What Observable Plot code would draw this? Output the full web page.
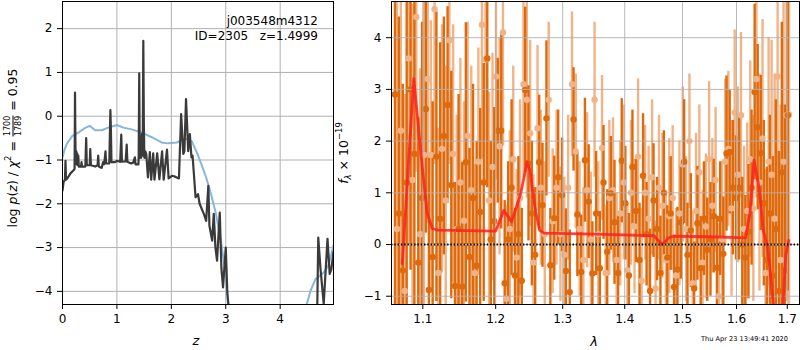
<!DOCTYPE html>
<html><head><meta charset="utf-8">
<script src="https://cdn.jsdelivr.net/npm/d3@7"></script>
<script src="https://cdn.jsdelivr.net/npm/@observablehq/plot@0.6"></script>
<style>
body{margin:0;background:#fff;}
#wrap{position:relative;width:800px;height:350px;font-family:"DejaVu Sans",sans-serif;overflow:hidden;background:#fff}
#left,#right{position:absolute;top:0}
#left{left:0}
#right{left:340px}
.lbl{position:absolute;white-space:nowrap;color:#000;line-height:1}
.rot{transform:translate(-50%,-50%) rotate(-90deg)}
.frac{display:inline-flex;flex-direction:column;vertical-align:middle;font-size:8px;text-align:center;line-height:1;margin:0 1px}
.frac span:first-child{border-bottom:1px solid #000;padding-bottom:1px}
.frac span:last-child{padding-top:1px}
</style></head><body>
<div id="wrap">
<div id="left"></div><div id="right"></div>
<div class="lbl rot" style="left:13px;top:148px;font-size:12.5px">log <i>p</i>(<i>z</i>) / <i>χ</i><sup style="font-size:8px">2</sup> = <span class="frac"><span>1700</span><span>1789</span></span> = 0.95</div>
<div class="lbl rot" style="left:344px;top:153px;font-size:12.5px"><i>f</i><sub style="font-size:8.5px"><i>λ</i></sub> × 10<sup style="font-size:8.5px">−19</sup></div>
<div class="lbl" style="left:196px;top:340px;transform:translate(-50%,-50%);font-size:13px;font-style:italic">z</div>
<div class="lbl" style="left:594px;top:341px;transform:translate(-50%,-50%);font-size:13px;font-style:italic">λ</div>
<div class="lbl" style="right:482px;top:14px;font-size:12px;text-align:right;white-space:pre;line-height:14.5px">j003548m4312
ID=2305   z=1.4999</div>
<div class="lbl" style="right:12px;top:336px;font-size:6.6px">Thu Apr 23 13:49:41 2020</div>
</div>
<script>
// ---- Left panel: log p(z) ----
const pzZ = [0.000,0.020,0.045,0.055,0.065,0.100,0.150,0.200,0.222,0.230,0.238,0.246,0.254,0.262,0.270,0.278,0.290,0.300,0.340,0.350,0.360,0.420,0.435,0.447,0.500,0.510,0.522,0.600,0.645,0.656,0.668,0.720,0.745,0.765,0.790,0.802,0.860,0.880,0.890,0.900,0.960,1.000,1.060,1.080,1.092,1.160,1.180,1.192,1.260,1.300,1.330,1.342,1.395,1.400,1.410,1.420,1.432,1.445,1.460,1.474,1.485,1.495,1.505,1.522,1.540,1.570,1.605,1.630,1.667,1.690,1.740,1.780,1.830,1.860,1.920,1.950,2.010,2.070,2.140,2.180,2.220,2.240,2.270,2.310,2.340,2.370,2.390,2.410,2.445,2.490,2.520,2.600,2.640,2.680,2.700,2.750,2.780,2.810,2.840,2.890,2.920,2.950,3.000,3.030,3.060,3.150,4.600,4.680,4.700,4.740,4.800,4.870,4.910,4.940,4.980];
const pzLog = [-1.70,-1.50,-1.45,-1.02,-1.45,-1.40,-1.30,-1.24,-1.20,0.54,-0.70,-1.05,-0.80,-1.10,-0.85,-1.12,-0.90,-1.15,-1.15,-1.05,-1.15,-1.15,-0.50,-1.12,-1.12,-0.75,-1.12,-1.15,-1.12,-0.90,-1.15,-1.18,-1.05,-1.10,-0.80,-1.08,-1.08,0.14,-0.33,-1.05,-1.05,-1.02,-1.04,-0.42,-1.04,-1.03,-0.65,-1.04,-1.08,-1.06,-0.94,-1.10,-1.10,-0.90,0.98,-0.95,-0.60,-0.95,-0.40,-0.90,1.72,-0.20,-0.95,-0.80,-0.87,-1.40,-0.82,-1.45,-0.85,-1.45,-0.85,-1.44,-0.80,-1.45,-0.76,-1.42,-1.36,-1.38,-1.42,0.05,-0.86,-0.80,0.39,-0.80,-0.41,-0.94,-0.90,-1.24,-1.85,-1.78,-2.00,-2.24,-2.39,-1.59,-2.50,-2.84,-2.23,-3.00,-3.30,-2.20,-3.47,-3.91,-3.00,-4.06,-4.44,-5.50,-5.50,-4.50,-2.77,-3.47,-4.28,-2.80,-3.60,-3.50,-3.10];
const chiZ = [0.00,0.04,0.08,0.18,0.30,0.41,0.50,0.60,0.72,0.84,1.00,1.12,1.27,1.45,1.64,1.82,1.94,2.10,2.25,2.30,2.38,2.47,2.55,2.64,2.73,2.82,2.91,3.00,3.05,3.20,3.50,4.00,4.30,4.47,4.56,4.65,4.80,4.89,4.98];
const chiLog = [-0.94,-0.75,-0.63,-0.45,-0.37,-0.27,-0.22,-0.32,-0.32,-0.26,-0.20,-0.26,-0.30,-0.37,-0.48,-0.60,-0.62,-0.60,-0.52,-0.52,-0.58,-0.83,-1.09,-1.40,-1.78,-2.23,-2.84,-3.60,-4.37,-5.50,-6.50,-6.50,-5.30,-4.37,-3.98,-3.72,-3.57,-3.40,-2.95];
const leftXTicks = [0,1,2,3,4];
const leftYTicks = [-4,-3,-2,-1,0,1,2];

// ---- Right panel: spectrum ----
const darkLam = [1.064,1.069,1.074,1.079,1.084,1.089,1.094,1.099,1.104,1.108,1.113,1.118,1.123,1.128,1.133,1.138,1.143,1.148,1.153,1.158,1.163,1.168,1.173,1.178,1.183,1.188,1.193,1.198,1.203,1.208,1.213,1.218,1.223,1.228,1.233,1.238,1.243,1.248,1.253,1.258,1.264,1.269,1.275,1.281,1.287,1.293,1.299,1.305,1.311,1.317,1.323,1.329,1.335,1.341,1.347,1.353,1.359,1.365,1.371,1.377,1.383,1.389,1.395,1.401,1.407,1.413,1.419,1.425,1.431,1.437,1.443,1.449,1.455,1.461,1.467,1.473,1.479,1.485,1.491,1.497,1.503,1.509,1.515,1.521,1.527,1.533,1.539,1.545,1.551,1.557,1.563,1.569,1.575,1.581,1.587,1.593,1.599,1.605,1.611,1.617,1.623,1.629,1.635,1.641,1.647,1.653,1.659,1.665,1.671,1.677,1.683,1.689,1.695,1.701];
const darkFlux = [2.90,0.60,-0.50,1.20,3.00,1.75,-0.35,0.90,2.62,-0.88,-0.24,1.70,0.50,2.10,2.70,1.15,-0.80,0.30,-0.81,1.59,-0.24,0.90,-0.41,0.63,1.20,3.60,0.10,0.45,2.20,2.20,-0.75,0.10,1.10,-0.60,0.20,-0.70,2.99,1.57,0.60,-0.20,1.59,0.76,2.44,-0.40,0.51,1.30,0.96,-0.51,-0.92,2.42,0.58,-0.53,1.63,0.83,-0.56,0.60,-0.46,1.20,-0.14,0.99,0.43,-0.55,1.62,0.80,-0.60,1.50,0.65,-0.30,1.33,0.20,-0.90,0.85,0.30,-0.55,1.00,-0.25,0.60,-0.82,-0.48,0.43,1.60,-0.20,0.27,-0.85,0.41,-0.46,0.50,-0.10,0.10,0.55,-0.45,0.50,-0.18,1.76,1.79,1.10,0.90,1.10,0.00,-0.25,0.25,1.10,2.95,2.27,1.77,0.80,-0.30,0.60,-0.60,0.30,-0.90,1.40,-0.50,2.50];
const darkErr = [4.2,3.8,3.6,4.0,3.5,3.2,2.8,3.4,2.4,2.6,3.0,2.8,3.4,2.3,1.9,2.2,2.0,2.6,2.4,2.7,2.1,2.2,2.4,2.0,2.3,2.5,1.9,2.2,1.4,1.9,1.6,1.5,1.7,1.3,1.5,1.4,1.6,1.5,1.4,1.3,1.3,1.2,1.5,1.1,1.2,1.3,1.1,1.2,1.2,1.0,1.2,1.1,1.2,1.1,1.0,1.2,1.1,1.1,1.2,1.1,1.2,1.1,1.2,1.1,1.2,1.1,1.0,1.1,1.2,1.0,1.2,1.1,1.0,1.1,1.2,1.0,1.1,1.0,1.2,1.1,1.2,1.0,1.1,0.9,1.1,1.0,1.1,1.0,1.1,1.1,1.0,1.1,1.1,1.5,1.2,1.3,1.2,1.4,1.3,1.2,1.3,1.5,1.7,1.6,1.5,1.6,1.8,1.9,2.3,2.5,2.7,2.9,3.2,3.4];
const lightLam = [1.0665,1.0715,1.0765,1.0815,1.0865,1.0915,1.0965,1.1015,1.1065,1.1105,1.1155,1.1205,1.1255,1.1305,1.1355,1.1405,1.1455,1.1505,1.1555,1.1605,1.1655,1.1705,1.1755,1.1805,1.1855,1.1905,1.1955,1.2005,1.2055,1.2105,1.2155,1.2205,1.2255,1.2305,1.2355,1.2405,1.2455,1.2505,1.2555,1.2615,1.2665,1.2725,1.2785,1.2845,1.2905,1.2965,1.3025,1.3085,1.3145,1.3205,1.3265,1.3325,1.3385,1.3445,1.3505,1.3565,1.3625,1.3685,1.3745,1.3805,1.3865,1.3925,1.3985,1.4045,1.4105,1.4165,1.4225,1.4285,1.4345,1.4405,1.4465,1.4525,1.4585,1.4645,1.4705,1.4765,1.4825,1.4885,1.4945,1.5005,1.5065,1.5125,1.5185,1.5245,1.5305,1.5365,1.5425,1.5485,1.5545,1.5605,1.5665,1.5725,1.5785,1.5845,1.5905,1.5965,1.6025,1.6085,1.6145,1.6205,1.6265,1.6325,1.6385,1.6445,1.6505,1.6565,1.6625,1.6685,1.6745,1.6805,1.6865,1.6925,1.6985,1.7035];
const lightFlux = [0.30,2.20,-0.90,3.60,1.25,4.40,0.20,1.73,3.20,1.73,4.55,-0.55,1.85,0.85,3.95,1.75,0.30,1.20,0.46,2.10,1.05,-0.55,1.60,4.25,3.58,0.85,1.50,3.25,1.90,4.10,-1.05,0.30,1.65,-0.25,0.90,3.10,2.80,2.15,-0.35,2.25,1.10,0.20,2.80,0.45,1.10,0.20,-0.20,1.10,3.10,1.80,0.30,-0.30,1.05,0.10,2.80,0.20,1.87,-0.55,0.90,1.05,-0.30,0.60,1.20,-0.50,1.00,0.35,1.70,-0.70,1.00,0.50,1.30,-0.85,1.10,0.75,-0.30,0.55,0.90,-0.60,0.60,1.55,0.30,2.00,-0.75,0.65,1.40,-0.35,0.35,1.65,0.75,1.25,-1.00,0.10,1.60,1.85,0.70,2.55,1.35,2.50,0.30,0.65,1.65,0.70,3.20,1.20,2.05,-0.55,1.60,1.35,0.50,3.25,-0.30,1.60,2.50,2.51];
const lightErr = [4.5,4.2,3.8,3.6,3.4,3.0,3.2,3.0,2.8,2.6,3.0,2.8,2.4,2.6,2.4,2.5,2.2,2.4,2.3,2.2,2.4,2.1,2.2,2.6,2.4,2.1,2.2,2.0,2.1,2.2,1.8,1.9,1.8,1.7,1.9,1.8,1.9,1.8,1.7,1.6,1.5,1.4,1.5,1.4,1.5,1.3,1.5,1.4,1.4,1.5,1.3,1.4,1.5,1.3,1.5,1.4,1.4,1.3,1.5,1.4,1.3,1.4,1.5,1.3,1.4,1.3,1.5,1.4,1.3,1.4,1.5,1.3,1.4,1.4,1.3,1.5,1.4,1.3,1.4,1.5,1.4,1.3,1.4,1.5,1.3,1.4,1.4,1.5,1.3,1.4,1.4,1.5,1.6,1.5,1.7,1.6,1.7,1.6,1.6,1.7,1.9,1.8,2.3,2.1,2.3,2.0,2.4,2.6,2.8,3.0,3.0,3.3,3.6,3.8];
const modelLam = [1.0733,1.0882,1.0992,1.1058,1.1124,1.1200,1.1600,1.2000,1.2117,1.2230,1.2367,1.2459,1.2500,1.2575,1.2645,1.2715,1.3500,1.4495,1.4641,1.4757,1.4837,1.5500,1.6174,1.6259,1.6337,1.6435,1.6520,1.6610,1.6700,1.6760,1.6860,1.6970,1.7030];
const modelFlux = [-0.37,3.21,1.50,0.60,0.31,0.28,0.27,0.26,0.66,0.44,1.00,1.60,1.44,0.73,0.28,0.22,0.20,0.17,0.00,0.13,0.16,0.15,0.13,0.60,1.63,1.11,0.28,-0.08,-0.95,-1.60,-2.00,-0.20,0.08];
const rightXTicks = [1.1,1.2,1.3,1.4,1.5,1.6,1.7];
const rightYTicks = [-1,0,1,2,3,4];

const fmt = d => (d < 0 ? "\u2212" : "") + Math.abs(d);
const baseStyle = {fontSize: "12px", fontFamily: "DejaVu Sans, sans-serif", color: "black", background: "transparent", overflow: "visible"};
const gridC = "#b0b0b0";

const pz = pzZ.map((z, i) => ({z, v: pzLog[i]}));
const chi = chiZ.map((z, i) => ({z, v: chiLog[i]}));

const left = Plot.plot({
  width: 340, height: 350,
  marginLeft: 62, marginRight: 7, marginTop: 1, marginBottom: 46,
  style: baseStyle,
  x: {domain: [0, 4.98]},
  y: {domain: [-4.3, 2.62]},
  marks: [
    Plot.gridX({ticks: leftXTicks, stroke: gridC, strokeOpacity: 1, strokeWidth: 1}),
    Plot.gridY({ticks: leftYTicks, stroke: gridC, strokeOpacity: 1, strokeWidth: 1}),
    Plot.line(chi, {x: "z", y: "v", stroke: "#86b7da", strokeWidth: 2, clip: true}),
    Plot.line(pz, {x: "z", y: "v", stroke: "#3a3a3a", strokeWidth: 2.2, clip: true}),
    Plot.axisX({ticks: leftXTicks, tickSize: 5, tickPadding: 5, label: null, tickFormat: fmt}),
    Plot.axisY({ticks: leftYTicks, tickSize: 5, tickPadding: 5, label: null, tickFormat: fmt}),
    Plot.frame({stroke: "black", strokeWidth: 1})
  ]
});
document.getElementById("left").appendChild(left);

const dark = darkLam.map((l, i) => ({l, f: darkFlux[i], e: darkErr[i]}));
const light = lightLam.map((l, i) => ({l, f: lightFlux[i], e: lightErr[i]}));
const model = modelLam.map((l, i) => ({l, f: modelFlux[i]}));
const darkC = "#de6a0e";
const lightC = "#f0b487";

const right = Plot.plot({
  width: 460, height: 350,
  marginLeft: 51, marginRight: 1, marginTop: 1, marginBottom: 46,
  style: baseStyle,
  x: {type: "log", domain: [1.0596, 1.725]},
  y: {domain: [-1.16, 4.70]},
  marks: [
    Plot.ruleX(light, {x: "l", y1: d => d.f - d.e, y2: d => d.f + d.e, stroke: lightC, strokeWidth: 2.4, clip: true}),
    Plot.ruleX(dark, {x: "l", y1: d => d.f - d.e, y2: d => d.f + d.e, stroke: darkC, strokeWidth: 2.4, clip: true}),
    Plot.dot(light, {x: "l", y: "f", r: 3.2, fill: lightC, stroke: "none", clip: true}),
    Plot.dot(dark, {x: "l", y: "f", r: 3.2, fill: darkC, stroke: "none", clip: true}),
    Plot.gridX({ticks: rightXTicks, stroke: gridC, strokeOpacity: 0.9, strokeWidth: 1}),
    Plot.gridY({ticks: rightYTicks, stroke: gridC, strokeOpacity: 0.9, strokeWidth: 1}),
    Plot.line(model, {x: "l", y: "f", stroke: "#ff1f1f", strokeOpacity: 0.85, strokeWidth: 2.8, clip: true}),
    Plot.ruleY([0], {stroke: "black", strokeWidth: 1.8, strokeDasharray: "1.4,1.9"}),
    Plot.axisX({ticks: rightXTicks, tickSize: 5, tickPadding: 5, label: null, tickFormat: d => d.toFixed(1)}),
    Plot.axisY({ticks: rightYTicks, tickSize: 5, tickPadding: 5, label: null, tickFormat: fmt}),
    Plot.frame({stroke: "black", strokeWidth: 1})
  ]
});
document.getElementById("right").appendChild(right);
</script>
</body></html>
